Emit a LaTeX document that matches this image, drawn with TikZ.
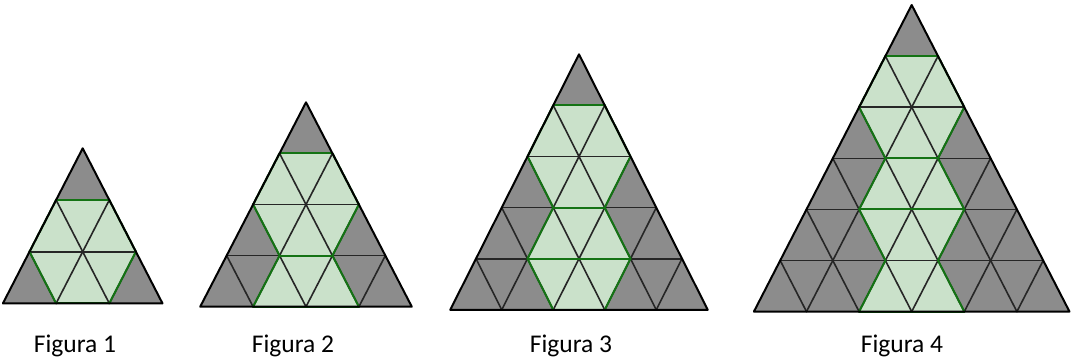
\documentclass[tikz,border=0pt]{standalone}
\usepackage{fontspec}
\setmainfont{Carlito}
\definecolor{grisfill}{RGB}{140,140,140}
\definecolor{verdefill}{RGB}{202,225,202}
\definecolor{verdeline}{RGB}{20,115,20}
\tikzset{
  grey/.style      = {fill=grisfill},
  greenarea/.style = {fill=verdefill},
  gridline/.style  = {draw=black!85, line width=1.6pt, line cap=round},
  border/.style    = {draw=black, line width=2pt, line join=round},
  greenedge/.style = {draw=verdeline, line width=2pt, line cap=round},
  caption/.style   = {font=\fontsize{25.5}{30}\selectfont, anchor=base, inner sep=0pt}
}
% #1 apex x, #2 apex y, #3 rows, #4 side, #5 row height
\newcommand{\figura}[5]{%
  \begin{scope}[shift={(#1,-#2)}]
    \def\sd{#4}\def\rh{#5}
    \pgfmathtruncatemacro\last{#3-1}
    % grey triangle
    \fill[grey] (0,0) -- ({-#3*\sd/2},{-#3*\rh}) -- ({#3*\sd/2},{-#3*\rh}) -- cycle;
    % green rows (zigzag column)
    \foreach \r in {2,...,#3} {
      \fill[greenarea] ({-\sd*(1+mod(\r,2))/2},{-(\r-1)*\rh})
        -- ({\sd*(1+mod(\r,2))/2},{-(\r-1)*\rh})
        -- ({\sd*(1+mod(\r+1,2))/2},{-\r*\rh})
        -- ({-\sd*(1+mod(\r+1,2))/2},{-\r*\rh}) -- cycle;
    }
    % grid
    \foreach \i in {1,...,\last} {
      \draw[gridline] ({-\i*\sd/2},{-\i*\rh}) -- ({\i*\sd/2},{-\i*\rh});
      \draw[gridline] ({-\i*\sd/2},{-\i*\rh}) -- ({(#3/2-\i)*\sd},{-#3*\rh});
      \draw[gridline] ({\i*\sd/2},{-\i*\rh}) -- ({(\i-#3/2)*\sd},{-#3*\rh});
    }
    % green outline
    \foreach \r in {2,...,#3} {
      \draw[greenedge] ({-\sd*(1+mod(\r,2))/2},{-(\r-1)*\rh})
        -- ({-\sd*(1+mod(\r+1,2))/2},{-\r*\rh});
      \draw[greenedge] ({\sd*(1+mod(\r,2))/2},{-(\r-1)*\rh})
        -- ({\sd*(1+mod(\r+1,2))/2},{-\r*\rh});
    }
    \draw[greenedge] ({-\sd/2},{-\rh}) -- ({\sd/2},{-\rh});
    \draw[greenedge] ({-\sd*(1+mod(#3+1,2))/2},{-#3*\rh})
      -- ({\sd*(1+mod(#3+1,2))/2},{-#3*\rh});
    \foreach \d in {3,4} {
      \ifnum\d<#3
        \draw[greenedge] ({-\sd*(1+mod(\d+1,2))/2},{-\d*\rh})
          -- ({\sd*(1+mod(\d+1,2))/2},{-\d*\rh});
      \fi
    }
    % outer border
    \draw[border] (0,0) -- ({-#3*\sd/2},{-#3*\rh}) -- ({#3*\sd/2},{-#3*\rh}) -- cycle;
  \end{scope}}

\begin{document}
\begin{tikzpicture}[x=1pt, y=1pt]
  \useasboundingbox (0,0) rectangle (1077,-362);
  % the four figures
  \figura{82.7}{148.3}{3}{53.2}{51.7}
  \figura{306}{102.3}{4}{52.9}{51.1}
  \figura{579}{54.3}{5}{51.5}{51.1}
  \figura{911.7}{5}{6}{52.6}{51.1}
  % captions
  \node[caption] (fig1) at (75,-352) {Figura 1};
  \node[caption] (fig2) at (293,-352) {Figura 2};
  \node[caption] (fig3) at (571,-352) {Figura 3};
  \node[caption] (fig4) at (902,-352) {Figura 4};
\end{tikzpicture}
\end{document}
